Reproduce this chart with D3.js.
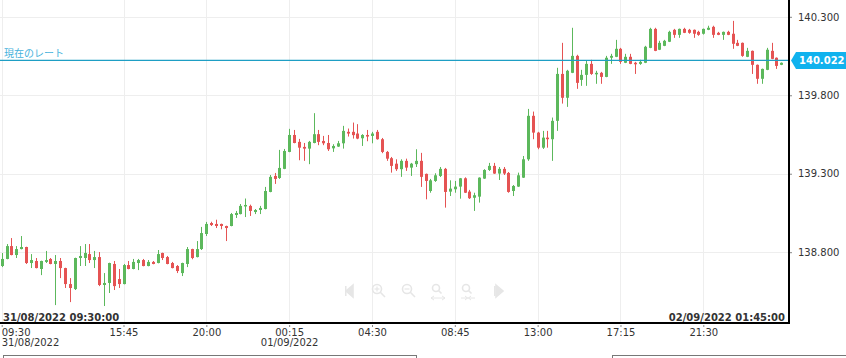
<!DOCTYPE html>
<html><head><meta charset="utf-8">
<script src="https://cdn.jsdelivr.net/npm/d3@7"></script>
<style>html,body{margin:0;padding:0;background:#fff;overflow:hidden}text{font-family:"DejaVu Sans",Verdana,sans-serif}</style>
</head><body><svg id="c" width="846" height="358"></svg>
<script>
const startTime = "2022-08-31T09:30";
const intervalMinutes = 15;
const opens = [138.712,138.757,138.839,138.782,138.820,138.833,138.731,138.744,138.693,138.738,138.757,138.725,138.744,138.699,138.597,138.565,138.763,138.763,138.788,138.750,138.769,138.591,138.604,138.725,138.629,138.597,138.718,138.693,138.731,138.750,138.712,138.738,138.731,138.795,138.769,138.731,138.712,138.667,138.725,138.820,138.769,138.820,138.916,138.986,138.980,138.980,138.967,138.967,139.037,139.043,139.095,139.095,139.056,139.069,139.075,139.184,139.286,139.273,139.331,139.439,139.547,139.503,139.471,139.460,139.496,139.552,139.509,139.496,139.462,139.473,139.494,139.567,139.567,139.556,139.526,139.547,139.541,139.567,139.520,139.439,139.399,139.364,139.329,139.382,139.339,139.361,139.382,139.299,139.190,139.254,139.286,139.331,139.186,139.201,139.218,139.271,139.186,139.147,139.154,139.269,139.324,139.350,139.301,139.331,139.305,139.190,139.218,139.275,139.392,139.669,139.562,139.466,139.530,139.520,139.637,139.936,139.784,139.943,140.051,139.898,139.930,140.000,139.936,139.943,139.917,140.039,140.045,140.096,140.007,140.045,140.007,140.000,140.007,140.102,140.223,140.090,140.115,140.141,140.217,140.185,140.223,140.217,140.217,140.204,140.192,140.217,140.236,140.198,140.185,140.204,140.192,140.134,140.134,140.045,140.083,139.994,139.905,139.962,140.083,140.039,139.994];
const highs = [138.795,138.852,138.890,138.839,138.903,138.835,138.788,138.763,138.746,138.808,138.763,138.782,138.763,138.701,138.635,138.765,138.839,138.852,138.852,138.808,138.801,138.667,138.733,138.744,138.693,138.725,138.744,138.757,138.757,138.757,138.750,138.744,138.814,138.797,138.776,138.738,138.718,138.733,138.833,138.822,138.871,138.961,138.993,138.994,139.007,138.982,138.969,139.050,139.063,139.107,139.142,139.103,139.075,139.095,139.216,139.292,139.305,139.452,139.458,139.586,139.579,139.522,139.496,139.509,139.686,139.579,139.541,139.547,139.488,139.509,139.605,139.588,139.626,139.616,139.552,139.579,139.567,139.579,139.528,139.445,139.407,139.392,139.392,139.396,139.369,139.456,139.433,139.301,139.267,139.303,139.343,139.337,139.258,139.254,139.273,139.277,139.197,139.179,139.277,139.329,139.369,139.369,139.343,139.343,139.311,139.228,139.307,139.413,139.713,139.696,139.567,139.573,139.573,139.658,139.975,140.134,139.962,140.230,140.058,139.962,140.019,140.026,139.956,139.949,140.051,140.064,140.153,140.102,140.064,140.064,140.013,140.026,140.115,140.230,140.230,140.147,140.153,140.211,140.223,140.225,140.230,140.223,140.219,140.211,140.225,140.243,140.243,140.204,140.206,140.211,140.274,140.153,140.136,140.102,140.085,139.996,139.970,140.102,140.134,140.041,140.009];
const lows = [138.705,138.755,138.780,138.763,138.818,138.725,138.699,138.697,138.654,138.731,138.723,138.463,138.635,138.572,138.482,138.559,138.712,138.712,138.731,138.699,138.584,138.457,138.540,138.559,138.572,138.595,138.691,138.691,138.686,138.710,138.710,138.723,138.729,138.750,138.723,138.697,138.667,138.648,138.705,138.755,138.767,138.814,138.903,138.967,138.954,138.946,138.871,138.965,139.018,139.041,139.024,139.031,139.043,139.043,139.073,139.182,139.235,139.267,139.329,139.437,139.494,139.386,139.382,139.361,139.494,139.482,139.482,139.445,139.439,139.471,139.460,139.537,139.524,139.520,139.477,139.507,139.494,139.517,139.431,139.382,139.307,139.318,139.280,139.318,139.286,139.343,139.216,139.137,139.179,139.248,139.279,139.084,139.158,139.179,139.141,139.177,139.139,139.063,139.116,139.267,139.318,139.299,139.260,139.292,139.179,139.158,139.216,139.273,139.382,139.520,139.456,139.458,139.466,139.382,139.573,139.747,139.726,139.941,139.841,139.860,139.860,139.930,139.873,139.873,139.915,140.000,140.043,140.000,140.005,139.998,139.936,139.994,140.005,140.100,140.081,140.088,140.113,140.139,140.166,140.166,140.196,140.192,140.166,140.179,140.187,140.215,140.166,140.183,140.153,140.183,140.096,140.113,140.045,140.043,139.936,139.873,139.873,139.960,140.030,139.968,139.992];
const closes = [138.757,138.839,138.782,138.820,138.833,138.731,138.750,138.699,138.744,138.750,138.725,138.744,138.699,138.597,138.572,138.763,138.776,138.795,138.750,138.769,138.591,138.604,138.731,138.584,138.597,138.718,138.693,138.738,138.750,138.712,138.738,138.725,138.788,138.763,138.725,138.699,138.680,138.731,138.820,138.763,138.820,138.922,138.980,138.973,138.967,138.967,138.954,139.043,139.050,139.095,139.101,139.063,139.069,139.082,139.190,139.280,139.267,139.337,139.445,139.547,139.496,139.466,139.460,139.503,139.552,139.503,139.494,139.456,139.477,139.494,139.573,139.556,139.546,139.524,139.547,139.537,139.556,139.520,139.439,139.396,139.350,139.329,139.382,139.339,139.364,139.382,139.280,139.254,139.258,139.290,139.331,139.184,139.205,139.218,139.271,139.179,139.144,139.163,139.275,139.324,139.350,139.301,139.331,139.301,139.184,139.222,139.290,139.392,139.669,139.562,139.466,139.530,139.520,139.637,139.936,139.784,139.956,140.051,139.879,139.930,140.000,139.936,139.943,139.917,140.039,140.051,140.096,140.013,140.045,140.000,140.000,140.013,140.109,140.223,140.083,140.134,140.147,140.204,140.185,140.223,140.198,140.198,140.192,140.185,140.223,140.230,140.185,140.185,140.204,140.185,140.128,140.115,140.051,140.083,139.994,139.905,139.968,140.090,140.032,139.987,140.007];
const priceTicks = [138.8, 139.3, 139.8, 140.3];
const timeTicks = ["2022-08-31T09:30","2022-08-31T15:45","2022-08-31T20:00","2022-09-01T00:15","2022-09-01T04:30","2022-09-01T08:45","2022-09-01T13:00","2022-09-01T17:15","2022-09-01T21:30"];
const timeTickLabels = ["09:30","15:45","20:00","00:15","04:30","08:45","13:00","17:15","21:30"];
const dateTickLabels = ["31/08/2022","","","01/09/2022","","","","",""];
const currentRate = 140.022;
const currentRateLabel = "現在のレート";
const rangeStartLabel = "31/08/2022 09:30:00";
const rangeEndLabel = "02/09/2022 01:45:00";

const svg = d3.select("#c");
const plotRight = 789, plotBottom = 323;
const parse = d3.timeParse("%Y-%m-%dT%H:%M");
const t0 = parse(startTime);
const data = opens.map((o,i)=>({t:d3.timeMinute.offset(t0,i*intervalMinutes),o,h:highs[i],l:lows[i],c:closes[i]}));
const tickDates = timeTicks.map(parse);
const x = d3.scaleTime().domain([tickDates[0], tickDates[tickDates.length-1]]).range([1.7, 703.3]);
const y = d3.scaleLinear().domain([138.8, 140.3]).range([252.2, 16.8]);

svg.append("rect").attr("width",846).attr("height",358).attr("fill","#fff");
svg.append("defs").append("clipPath").attr("id","pc").append("rect").attr("x",0).attr("y",0).attr("width",plotRight-1).attr("height",plotBottom-1);

// grid
const grid = svg.append("g").attr("stroke","#eeeeee").attr("stroke-width",1);
grid.selectAll("line.v").data(tickDates).join("line").attr("class","v")
  .attr("x1",d=>Math.round(x(d))+0.5).attr("x2",d=>Math.round(x(d))+0.5).attr("y1",0).attr("y2",plotBottom);
grid.selectAll("line.h").data(priceTicks).join("line").attr("class","h")
  .attr("x1",0).attr("x2",plotRight).attr("y1",d=>Math.round(y(d))+0.5).attr("y2",d=>Math.round(y(d))+0.5);

// nav icons (faded)
const navC = "#e6e6e6";
const nav = svg.append("g").attr("fill","none").attr("stroke",navC).attr("stroke-width",1.6);
nav.append("path").attr("d","M353,285 L346,291 L353,297 Z").attr("fill",navC);
nav.append("rect").attr("x",345).attr("y",286).attr("width",1.5).attr("height",10).attr("fill",navC).attr("stroke","none");
[[377,289,"+"],[407,289,"-"]].forEach(([cx,cy,s])=>{
  nav.append("circle").attr("cx",cx).attr("cy",cy).attr("r",4.5);
  nav.append("line").attr("x1",cx+3.3).attr("y1",cy+3.3).attr("x2",cx+8).attr("y2",cy+8);
  nav.append("line").attr("x1",cx-2.5).attr("x2",cx+2.5).attr("y1",cy).attr("y2",cy).attr("stroke-width",1.2);
  if(s==="+") nav.append("line").attr("x1",cx).attr("x2",cx).attr("y1",cy-2.5).attr("y2",cy+2.5).attr("stroke-width",1.2);
});
[[436,288,0],[466,288,1]].forEach(([cx,cy,k])=>{
  nav.append("circle").attr("cx",cx).attr("cy",cy).attr("r",3.5);
  nav.append("line").attr("x1",cx+2.5).attr("y1",cy+2.5).attr("x2",cx+5.5).attr("y2",cy+5.5);
  nav.append("line").attr("x1",cx-5).attr("x2",cx+9).attr("y1",cy+10).attr("y2",cy+10).attr("stroke-width",1);
  if(k===0){
    nav.append("path").attr("d",`M${cx-2},${cy+8} L${cx-5},${cy+10} L${cx-2},${cy+12} M${cx+6},${cy+8} L${cx+9},${cy+10} L${cx+6},${cy+12}`).attr("stroke-width",1);
  } else {
    nav.append("path").attr("d",`M${cx-1},${cy+8} L${cx+1.5},${cy+10} L${cx-1},${cy+12} M${cx+5},${cy+8} L${cx+2.5},${cy+10} L${cx+5},${cy+12}`).attr("stroke-width",1);
  }
});
nav.append("path").attr("d","M496,285 L503,291 L496,297 Z").attr("fill",navC);
nav.append("rect").attr("x",494).attr("y",286).attr("width",1.5).attr("height",10).attr("fill",navC).attr("stroke","none");

// candles
const up = "#5cb85c", down = "#e55353";
const cg = svg.append("g").attr("clip-path","url(#pc)");
const cs = cg.selectAll("g.k").data(data).join("g").attr("class","k");
cs.append("line")
  .attr("x1",d=>Math.round(x(d.t))+0.5).attr("x2",d=>Math.round(x(d.t))+0.5)
  .attr("y1",d=>y(d.h)).attr("y2",d=>y(d.l))
  .attr("stroke",d=>d.c>=d.o?up:down).attr("stroke-width",1);
cs.append("rect")
  .attr("x",d=>Math.round(x(d.t))-1).attr("width",3)
  .attr("y",d=>y(Math.max(d.o,d.c)))
  .attr("height",d=>Math.max(1.5,Math.abs(y(d.o)-y(d.c))))
  .attr("fill",d=>d.c>=d.o?up:down);

// current rate line
const yc = y(currentRate);
svg.append("line").attr("x1",0).attr("x2",plotRight).attr("y1",yc).attr("y2",yc).attr("stroke","#1e9ec4").attr("stroke-width",1.3);
svg.append("text").attr("x",4).attr("y",yc-3).text(currentRateLabel)
  .style("font-family","'Noto Sans CJK JP',sans-serif").attr("font-size",10).attr("fill","#45b2dc");

// axes lines
svg.append("line").attr("x1",plotRight).attr("x2",plotRight).attr("y1",0).attr("y2",plotBottom+1).attr("stroke","#000").attr("stroke-width",2);
svg.append("line").attr("x1",0).attr("x2",plotRight+1).attr("y1",plotBottom).attr("y2",plotBottom).attr("stroke","#000").attr("stroke-width",2);

// y axis
const ya = svg.append("g").attr("transform",`translate(${plotRight+1},0)`)
  .call(d3.axisRight(y).tickValues(priceTicks).tickFormat(d3.format(".3f")).tickSize(2).tickPadding(6));
ya.select(".domain").remove();
ya.selectAll(".tick line").attr("stroke","#888");
ya.selectAll(".tick text").attr("font-size",10).attr("fill","#333").style("font-family","'DejaVu Sans',sans-serif");

// current rate box
svg.append("path").attr("d",`M791,${yc} L796,${yc-8.5} L846,${yc-8.5} L846,${yc+8.5} L796,${yc+8.5} Z`).attr("fill","#10b2ee");
svg.append("text").attr("x",799).attr("y",yc).attr("dy","0.36em").text(d3.format(".3f")(currentRate))
  .attr("font-size",10).attr("font-weight","bold").attr("fill","#fff");

// x axis
const xa = svg.append("g").attr("transform",`translate(0,${plotBottom+2})`)
  .call(d3.axisBottom(x).tickValues(tickDates).tickSize(2).tickFormat((d,i)=>timeTickLabels[i]));
xa.select(".domain").remove();
xa.selectAll(".tick line").attr("stroke","#888");
xa.selectAll(".tick text").attr("font-size",10).attr("fill","#333").attr("y",11).attr("dy",0)
  .style("font-family","'DejaVu Sans',sans-serif")
  .attr("text-anchor",(d,i)=>i===0?"start":"middle").attr("x",(d,i)=>i===0?-0.5:0)
  .each(function(d,i){
    if(dateTickLabels[i]) d3.select(this).append("tspan").attr("x",i===0?-0.5:0).attr("dy",10).text(dateTickLabels[i]);
  });

// range labels
svg.append("text").attr("x",3).attr("y",321).text(rangeStartLabel).attr("font-size",10).attr("font-weight","bold").attr("fill","#333");
svg.append("text").attr("x",785).attr("y",321).attr("text-anchor","end").text(rangeEndLabel).attr("font-size",10).attr("font-weight","bold").attr("fill","#333");

// navigator outline
svg.append("rect").attr("x",3.5).attr("y",355.5).attr("width",413).attr("height",10).attr("fill","none").attr("stroke","#777");
svg.append("rect").attr("x",612.5).attr("y",355.5).attr("width",240).attr("height",10).attr("fill","none").attr("stroke","#777");
</script></body></html>
